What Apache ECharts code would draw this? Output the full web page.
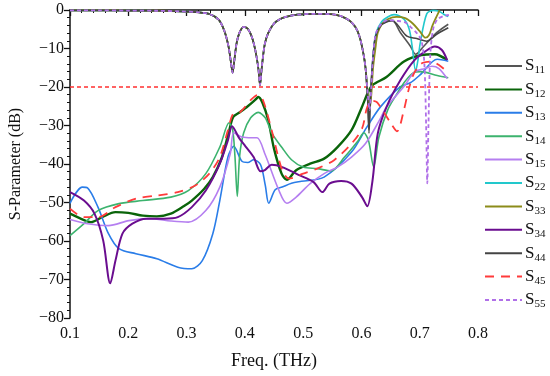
<!DOCTYPE html>
<html><head><meta charset="utf-8">
<script src="https://cdn.jsdelivr.net/npm/echarts@6/dist/echarts.min.js"></script>
<style>html,body{margin:0;padding:0;background:#fff}#c{width:550px;height:376px}</style>
</head><body><div id="c"></div>
<script>
const xTicks = [0.1, 0.8, 0.1];   // min, max, interval
const yTicks = [-80, 0, 10];
const refLevel = -20;
const seriesNames = ['S11','S12','S13','S14','S15','S22','S33','S34','S44','S45','S55'];

// shared reflection curve (S11,S22,S33,S44,S55 overlap up to ~0.607 THz)
const reflBase = [[0.1,-0.1],[0.15,-0.1],[0.2,-0.15],[0.25,-0.2],[0.29,-0.35],[0.32,-0.6],[0.34,-1.1],[0.355,-2.5],[0.365,-5.5],[0.372,-9.5],[0.376,-13.5],[0.379,-16.3],[0.382,-13],[0.386,-8.5],[0.391,-5.8],[0.398,-4.4],[0.405,-4.9],[0.412,-7],[0.418,-10.5],[0.423,-15],[0.426,-19.5],[0.429,-15],[0.434,-9],[0.44,-6],[0.45,-3.5],[0.46,-2.4],[0.47,-1.8],[0.49,-1.2],[0.52,-1.0],[0.55,-1.1],[0.565,-1.6],[0.58,-2.8],[0.59,-4.5],[0.597,-7],[0.603,-11],[0.607,-15]];
const s11Tail = [[0.611,-24],[0.613,-32],[0.615,-24],[0.619,-14],[0.624,-7],[0.633,-4],[0.645,-2.9],[0.653,-2.7],[0.667,-5.9],[0.684,-9.4],[0.693,-11.5],[0.707,-9.4],[0.729,-5.9],[0.749,-3.7]];
const s22Tail = [[0.611,-22],[0.614,-26],[0.617,-20],[0.62,-12],[0.625,-6],[0.635,-3],[0.645,-1.8],[0.656,-1.2],[0.673,-2.4],[0.682,-5],[0.687,-9.4],[0.693,-15.9],[0.697,-13],[0.701,-8.5],[0.712,-1],[0.723,-0.1],[0.733,-0.3],[0.741,-1.1],[0.749,-1.7]];
const s33Tail = [[0.611,-22],[0.614,-26],[0.617,-22],[0.62,-15],[0.624,-10],[0.628,-5.9],[0.636,-3.5],[0.645,-2.4],[0.66,-1.8],[0.675,-2.1],[0.688,-3.5],[0.7,-5.5],[0.71,-7.2],[0.716,-6.5],[0.722,-4],[0.728,-2],[0.734,-0.1]];
const s44Tail = [[0.611,-24],[0.613,-31],[0.615,-24],[0.619,-14],[0.624,-7],[0.633,-4],[0.645,-3],[0.653,-2.8],[0.661,-3.7],[0.678,-6.8],[0.695,-7.4],[0.712,-8.1],[0.729,-6.3],[0.749,-4.6]];
const s55Tail = [[0.611,-22],[0.614,-26],[0.617,-20],[0.62,-12],[0.625,-6],[0.635,-3.5],[0.645,-2.6],[0.66,-2.8],[0.675,-3.2],[0.685,-4.5],[0.695,-6],[0.703,-8],[0.708,-14],[0.711,-30],[0.713,-45],[0.715,-30],[0.718,-12],[0.723,-5],[0.73,-2.5],[0.74,-1.6],[0.75,-1.3]];

const s12 = [[0.1,-52.9],[0.12,-54.3],[0.136,-55.1],[0.155,-53.8],[0.178,-52.5],[0.2,-52.7],[0.225,-53.4],[0.249,-53.6],[0.273,-52.9],[0.295,-51],[0.309,-49.5],[0.33,-46.5],[0.345,-43.4],[0.36,-38.5],[0.372,-32],[0.38,-27.8],[0.39,-26.7],[0.405,-25],[0.418,-23.3],[0.423,-22.6],[0.43,-24],[0.44,-28.5],[0.45,-36],[0.463,-42.5],[0.472,-44.1],[0.488,-41.6],[0.512,-39.9],[0.536,-38.6],[0.559,-35.6],[0.583,-31.2],[0.6,-25.5],[0.611,-21.5],[0.619,-19.5],[0.643,-17.4],[0.673,-13.4],[0.703,-11.7],[0.726,-11.5],[0.747,-13]];
const s13 = [[0.1,-50.2],[0.121,-46],[0.13,-46.2],[0.148,-51.2],[0.166,-58.1],[0.184,-62],[0.213,-63.3],[0.249,-64.6],[0.285,-66.8],[0.309,-67.2],[0.327,-65.1],[0.345,-58.1],[0.357,-49.5],[0.371,-38.2],[0.381,-35.4],[0.395,-39.3],[0.405,-39.6],[0.415,-38.9],[0.427,-40.2],[0.435,-45.5],[0.441,-50.2],[0.452,-46.7],[0.464,-46],[0.48,-45],[0.497,-44.5],[0.536,-43.4],[0.583,-36.9],[0.609,-30.5],[0.633,-25.1],[0.667,-19.9],[0.684,-18.9],[0.701,-16.8],[0.73,-12.8],[0.749,-13.3]];
const s14 = [[0.1,-58.6],[0.124,-55.5],[0.148,-52.1],[0.184,-50.3],[0.225,-49.5],[0.273,-48.6],[0.303,-46.9],[0.333,-42.5],[0.357,-35.6],[0.373,-29.3],[0.379,-31],[0.383,-38],[0.387,-48.4],[0.391,-38],[0.398,-31.9],[0.41,-28],[0.423,-26.6],[0.435,-28],[0.446,-31.9],[0.464,-35.8],[0.48,-38.9],[0.5,-40.8],[0.524,-41.2],[0.548,-41.8],[0.571,-38.2],[0.595,-33.8],[0.604,-31.9],[0.612,-33.8],[0.621,-40.7],[0.63,-33],[0.645,-26],[0.66,-22],[0.675,-18.5],[0.69,-16.2],[0.701,-16],[0.73,-17],[0.749,-17.6]];
const s15 = [[0.1,-54.4],[0.13,-55.5],[0.166,-56],[0.201,-54.7],[0.237,-54.2],[0.273,-54.8],[0.303,-55.1],[0.333,-52.1],[0.357,-46],[0.375,-37.3],[0.381,-31.9],[0.395,-33],[0.412,-33.2],[0.421,-33.2],[0.435,-37.6],[0.458,-46.7],[0.472,-50.2],[0.488,-48.6],[0.512,-45.1],[0.536,-42.5],[0.559,-40.8],[0.583,-38.2],[0.607,-34.7],[0.631,-28.6],[0.643,-25.2],[0.673,-19.9],[0.691,-16.1],[0.709,-15.2],[0.721,-14.6],[0.733,-15.2],[0.747,-17.8]];
const s34 = [[0.1,-47.3],[0.124,-49.5],[0.142,-52.9],[0.157,-59.9],[0.169,-71],[0.178,-65.1],[0.19,-58.1],[0.207,-55.5],[0.231,-54.2],[0.261,-54.2],[0.285,-53.8],[0.309,-51.2],[0.333,-46.9],[0.357,-39.9],[0.371,-33.8],[0.378,-30.2],[0.39,-33.2],[0.401,-35.4],[0.415,-38.2],[0.427,-41.9],[0.435,-41.5],[0.446,-40.2],[0.464,-40.8],[0.492,-42.8],[0.518,-44.7],[0.533,-47.3],[0.545,-45.1],[0.565,-44.4],[0.583,-45.1],[0.601,-48.6],[0.61,-51],[0.619,-44.3],[0.628,-32.1],[0.643,-25.2],[0.667,-18.2],[0.691,-13],[0.709,-10.8],[0.726,-9.5],[0.738,-10.4],[0.747,-13]];
const s45 = [[0.1,-51.6],[0.124,-53.8],[0.148,-53.8],[0.178,-51.2],[0.213,-49],[0.249,-48.2],[0.285,-47.3],[0.315,-45.6],[0.339,-42.5],[0.357,-38.2],[0.371,-31.2],[0.38,-26.9],[0.392,-26.5],[0.41,-23.4],[0.422,-22.1],[0.431,-23.4],[0.446,-31.2],[0.464,-41.6],[0.476,-43.8],[0.5,-42.5],[0.524,-41.2],[0.553,-39],[0.583,-34.7],[0.601,-30.8],[0.61,-25.2],[0.619,-23.6],[0.627,-24],[0.65,-29.3],[0.661,-31.5],[0.673,-25.9],[0.681,-20.7],[0.69,-16.5],[0.703,-13.9],[0.721,-13.4],[0.733,-14.3],[0.747,-16]];

const seriesData = {
  S11: reflBase.concat(s11Tail), S12: s12, S13: s13, S14: s14, S15: s15,
  S22: reflBase.concat(s22Tail), S33: reflBase.concat(s33Tail), S34: s34,
  S44: reflBase.concat(s44Tail), S45: s45, S55: reflBase.concat(s55Tail)
};
const styles = {
  S11: {color:'#555555', width:1.6},
  S12: {color:'#0a640a', width:2.4},
  S13: {color:'#2a7de8', width:1.6},
  S14: {color:'#3cb36e', width:1.6},
  S15: {color:'#b57ff0', width:1.6},
  S22: {color:'#22c8cc', width:1.6},
  S33: {color:'#8c8c1a', width:1.8},
  S34: {color:'#6a0d8f', width:2},
  S44: {color:'#444444', width:1.6},
  S45: {color:'#ff3b3b', width:1.8, type:[9,7]},
  S55: {color:'#b070e8', width:1.8, type:[4,3]}
};
const font = 'Liberation Serif';
const series = seriesNames.map(function(n){
  const st = styles[n];
  return {
    name: n, type: 'line', data: seriesData[n], showSymbol: false, symbol: 'none',
    smooth: 0.3, z: n==='S55' ? 5 : 3,
    lineStyle: {color: st.color, width: st.width, type: st.type || 'solid'},
    itemStyle: {color: st.color}
  };
});
// -20 dB reference line spanning the x range
series.push({
  name: 'ref', type: 'line', symbol: 'none', showSymbol: false, silent: true, z: 2,
  color: '#ff3030',
  data: [[xTicks[0], refLevel], [xTicks[1], refLevel]],
  lineStyle: {color:'#ff3030', type:[4,3], width:1.3, opacity: 1},
  itemStyle: {color:'#ff3030'}
});
const chart = echarts.init(document.getElementById('c'));
chart.setOption({
  animation: false,
  backgroundColor: '#fff',
  grid: {left: 66, right: 72, top: 10, bottom: 58},
  legend: {
    orient: 'vertical', left: 484, top: 56, padding: 0, itemWidth: 37, itemHeight: 12, itemGap: 3.4,
    itemStyle: {opacity: 0},
    formatter: function(n){ return 'S{sub|' + n.slice(1) + '}'; },
    textStyle: {fontFamily: font, fontSize: 17, color:'#111', lineHeight: 20, padding: [0,0,0,-2],
      rich: {sub: {fontFamily: font, fontSize: 11, color:'#111', padding:[9,0,0,0]}}},
    data: seriesNames
  },
  xAxis: {
    type: 'value', min: xTicks[0], max: xTicks[1], interval: xTicks[2],
    name: 'Freq. (THz)', nameLocation: 'middle', nameGap: 34,
    nameTextStyle: {fontFamily: font, fontSize: 18, color:'#111'},
    axisLine: {lineStyle: {color:'#111', width:1.5}},
    axisTick: {length: 6, lineStyle: {color:'#111', width:1.3}},
    minorTick: {show: true, splitNumber: 5, length: 3, lineStyle: {color:'#111', width:1}},
    splitLine: {show: false},
    axisLabel: {fontFamily: font, fontSize: 16, color:'#111', margin: 8,
      formatter: function(v){ return v.toFixed(1); }}
  },
  yAxis: {
    type: 'value', min: yTicks[0], max: yTicks[1], interval: yTicks[2],
    name: 'S-Parameter (dB)', nameLocation: 'middle', nameGap: 46, nameRotate: 90,
    nameTextStyle: {fontFamily: font, fontSize: 16, color:'#111'},
    axisLine: {show: true, lineStyle: {color:'#111', width:1.5}},
    axisTick: {show: true, length: 6, lineStyle: {color:'#111', width:1.3}},
    minorTick: {show: true, splitNumber: 5, length: 3, lineStyle: {color:'#111', width:1}},
    splitLine: {show: false},
    axisLabel: {fontFamily: font, fontSize: 16, color:'#111', margin: 6,
      formatter: function(v){ return v < 0 ? '\u2212' + (-v) : String(v); }}
  },
  series: series
});
</script></body></html>
